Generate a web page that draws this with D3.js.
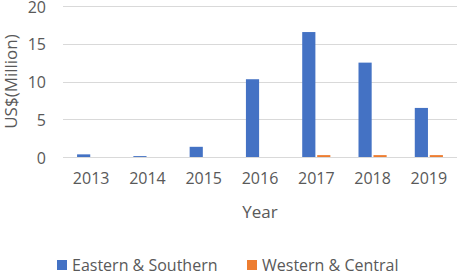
<!DOCTYPE html>
<html>
<head>
<meta charset="utf-8">
<script src="https://cdn.jsdelivr.net/npm/d3@7"></script>
<style>
  body { margin: 0; background: #fff; }
  text { font-family: "Open Sans", "Liberation Sans", sans-serif; fill: #595959; }
</style>
</head>
<body>
<div id="chart"></div>
<script>
// chart data
const years = ['2013', '2014', '2015', '2016', '2017', '2018', '2019'];
const seriesNames = ['Eastern & Southern', 'Western & Central'];
const eastern = [0.35, 0.12, 1.35, 10.3, 16.55, 12.5, 6.5];
const western = [0, 0, 0, 0, 0.25, 0.25, 0.25];
const yTicks = [0, 5, 10, 15, 20];
const colors = ['#4472c4', '#ed7d31'];

const width = 457, height = 272;
const margin = { top: 6, right: 0, bottom: 115, left: 63 };

const svg = d3.select('#chart')
  .append('svg')
  .attr('width', width)
  .attr('height', height);

const x = d3.scaleBand()
  .domain(years)
  .range([margin.left, width - margin.right])
  .paddingInner(0.5)
  .paddingOuter(0.25);

const xSub = d3.scaleBand()
  .domain(seriesNames)
  .range([0, x.bandwidth()])
  .paddingInner(0.12);

const y = d3.scaleLinear()
  .domain([0, 20])
  .range([height - margin.bottom, margin.top]);

// gridlines
svg.append('g')
  .selectAll('line')
  .data(yTicks)
  .enter()
  .append('line')
    .attr('x1', margin.left)
    .attr('x2', width - margin.right)
    .attr('y1', d => Math.round(y(d)) + 0.5)
    .attr('y2', d => Math.round(y(d)) + 0.5)
    .attr('stroke', '#d9d9d9')
    .attr('stroke-width', 1.2);

// y axis labels
const yAxis = d3.axisLeft(y).tickValues(yTicks).tickSize(0).tickPadding(0);
svg.append('g')
  .attr('transform', `translate(${margin.left - 17},1)`)
  .call(yAxis)
  .call(g => g.select('.domain').remove())
  .selectAll('text')
    .style('font-size', '16px')
    .style('font-family', null)
    .style('fill', '#595959');

// x axis labels
const xAxis = d3.axisBottom(x).tickSize(0).tickPadding(0);
svg.append('g')
  .attr('transform', `translate(0,${y(0) + 16})`)
  .call(xAxis)
  .call(g => g.select('.domain').remove())
  .selectAll('text')
    .style('font-size', '16px')
    .style('fill', '#595959');

// bars
const data = [eastern, western];
const groups = svg.append('g')
  .selectAll('g')
  .data(data)
  .enter()
  .append('g')
    .attr('fill', (d, i) => colors[i]);

groups.selectAll('rect')
  .data((d, i) => d.map((v, j) => ({ year: years[j], series: seriesNames[i], value: v })))
  .enter()
  .append('rect')
    .attr('x', d => x(d.year) + xSub(d.series))
    .attr('y', d => y(d.value))
    .attr('width', xSub.bandwidth())
    .attr('height', d => y(0) - y(d.value));

// axis titles
svg.append('text')
  .attr('x', (margin.left + width - margin.right) / 2)
  .attr('y', 218)
  .attr('text-anchor', 'middle')
  .style('font-size', '17px')
  .text('Year');

svg.append('text')
  .attr('text-anchor', 'middle')
  .attr('transform', `translate(17,${(y(0) + y(20)) / 2})rotate(-90)`)
  .style('font-size', '17px')
  .text('US$(Million)');

// legend
const legendX = [57, 247];
const legend = svg.append('g')
  .selectAll('g')
  .data(seriesNames)
  .enter()
  .append('g')
    .attr('transform', (d, i) => `translate(${legendX[i]},260)`);

legend.append('rect')
  .attr('width', 10)
  .attr('height', 10)
  .attr('fill', (d, i) => colors[i]);

legend.append('text')
  .attr('x', 15)
  .attr('y', 10.5)
  .style('font-size', '16px')
  .text(d => d);
</script>
</body>
</html>
